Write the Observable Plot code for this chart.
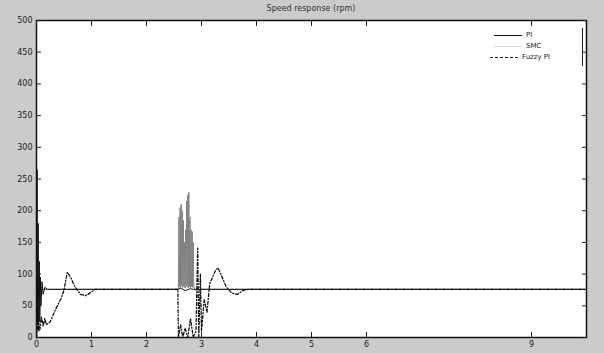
<!DOCTYPE html>
<html><head><meta charset="utf-8">
<script src="https://cdn.jsdelivr.net/npm/d3@7"></script>
<script src="https://cdn.jsdelivr.net/npm/@observablehq/plot@0.6"></script>
<style>
body{margin:0;background:#cbcbcb;}
#wrap{position:relative;width:604px;height:353px;}
#title{position:absolute;top:4px;left:36px;width:550px;text-align:center;font:8px "DejaVu Sans",sans-serif;color:#333;}
#legend{position:absolute;left:486px;top:28px;width:96px;height:38px;border-right:1.5px solid #222;font:7px "DejaVu Sans",sans-serif;color:#222;}
.row{position:absolute;left:0;height:10px;display:flex;align-items:center;}
.sw{width:28px;height:0;margin-right:4px;}
</style></head>
<body><div id="wrap"><div id="title">Speed response (rpm)</div><div id="chart"></div>
<div id="legend">
<div class="row" style="top:2px;left:8px"><span class="sw" style="border-top:1px solid #111"></span>PI</div>
<div class="row" style="top:13px;left:8px"><span class="sw" style="border-top:1px solid #ddd"></span>SMC</div>
<div class="row" style="top:24px;left:4px"><span class="sw" style="border-top:1.2px dashed #111"></span>Fuzzy PI</div>
</div></div>
<script>
const xTicks = [0, 1, 2, 3, 4, 5, 6, 9];
const yTicks = [0, 50, 100, 150, 200, 250, 300, 350, 400, 450, 500];

const piT = [0, 0.01, 0.02, 0.03, 0.04, 0.05, 0.06, 0.07, 0.08, 0.1, 0.12, 0.15, 0.2, 2.58, 2.62, 2.7, 2.8, 2.9, 3.0, 10];
const piV = [0, 265, 20, 180, 10, 120, 25, 95, 50, 88, 68, 79, 76, 76, 78, 74, 77, 75, 76, 76];

const smcT = [0, 0.2, 2.58, 2.59, 2.6, 2.61, 2.62, 2.63, 2.64, 2.65, 2.66, 2.67, 2.68, 2.69, 2.7, 2.71, 2.72, 2.73, 2.74, 2.75, 2.76, 2.77, 2.78, 2.79, 2.8, 2.81, 2.82, 2.83, 2.84, 2.85, 2.86, 2.88, 10];
const smcV = [76, 76, 76, 190, 80, 205, 78, 210, 82, 200, 79, 185, 80, 150, 78, 170, 80, 215, 82, 225, 78, 229, 80, 190, 78, 170, 80, 167, 79, 150, 80, 76, 76];

const fzT = [0, 0.03, 0.06, 0.09, 0.12, 0.15, 0.18, 0.25, 0.35, 0.45, 0.5, 0.56, 0.62, 0.7, 0.8, 0.9, 1.0, 1.07, 2.57, 2.58, 2.62, 2.66, 2.7, 2.75, 2.8, 2.85, 2.9, 2.93, 2.95, 2.98, 3.0, 3.05, 3.1, 3.15, 3.2, 3.25, 3.3, 3.35, 3.45, 3.55, 3.65, 3.75, 3.85, 10];
const fzV = [0, 25, 12, 32, 18, 30, 20, 25, 45, 62, 75, 103, 95, 80, 68, 66, 72, 76, 76, 0, 20, 0, 15, 0, 30, 0, 10, 141, 0, 100, 10, 60, 40, 85, 95, 105, 110, 100, 80, 70, 68, 74, 76, 76];

const pi = piT.map((t, i) => ({t, v: piV[i]}));
const smc = smcT.map((t, i) => ({t, v: smcV[i]}));
const fz = fzT.map((t, i) => ({t, v: fzV[i]}));

const chart = Plot.plot({
  width: 604, height: 353,
  marginLeft: 36, marginRight: 18, marginTop: 20, marginBottom: 16,
  style: {background: "#cbcbcb", fontSize: "8px", fontFamily: "DejaVu Sans", color: "#222"},
  x: {domain: [0, 10]},
  y: {domain: [0, 500]},
  marks: [
    Plot.frame({fill: "white"}),
    Plot.line(smc, {x: "t", y: "v", stroke: "#808080", strokeWidth: 1}),
    Plot.line(pi, {x: "t", y: "v", stroke: "#111", strokeWidth: 1}),
    Plot.line(fz, {x: "t", y: "v", stroke: "#111", strokeWidth: 1.3, strokeDasharray: "3,2,1,2"}),
    Plot.frame({stroke: "#111", strokeWidth: 1.5}),
    Plot.axisX({anchor: "bottom", ticks: xTicks, tickSize: -5, tickPadding: 9, label: null}),
    Plot.axisX({anchor: "top", ticks: xTicks, tickSize: -5, tickFormat: () => "", label: null}),
    Plot.axisY({anchor: "left", ticks: yTicks, tickSize: -5, tickPadding: 9, label: null}),
    Plot.axisY({anchor: "right", ticks: yTicks, tickSize: -5, tickFormat: () => "", label: null})
  ]
});
document.getElementById("chart").append(chart);
</script></body></html>
